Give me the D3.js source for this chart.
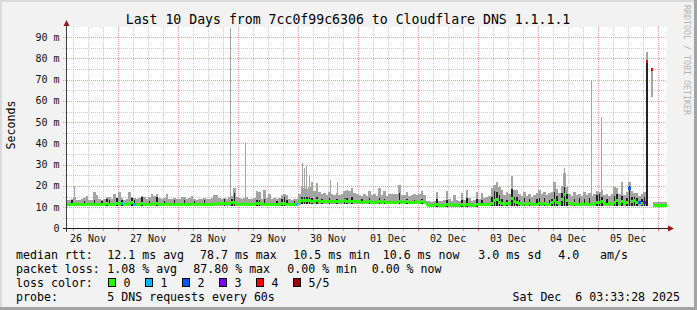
<!DOCTYPE html>
<html>
<head>
<meta charset="utf-8">
<script src="https://cdn.jsdelivr.net/npm/d3@7"></script>
<style>
  body { margin: 0; background: #f2f2f2; }
  text { font-family: "DejaVu Sans Mono", monospace; white-space: pre; }
</style>
</head>
<body>
<svg id="chart" width="697" height="310"></svg>
<script>
// hourly samples, first one = 26 Nov 03:00, last one = 06 Dec 03:00 (ms)
var med = [
  11.3,11.5,11.2,11.4,11.6,11.3,11.2,11.5,11.4,11.3,11.6,11.4,11.2,11.5,11.3,11.4,11.7,11.5,11.3,11.4,11.6, // 26 Nov 03h-23h
  11.6,11.9,11.4,11.3,11.7,12.0,11.5,11.3,11.4,11.8,11.5,11.3, 11.4,11.6,11.5,11.8,11.4,11.3,11.5,11.7,11.4,11.2,11.4,11.3, // 27 Nov
  11.3,11.5,11.4,11.2,11.3,11.6,11.4,11.2,11.3,11.5,11.3,11.4, 11.2,11.3,11.5,11.6,11.8,11.7,11.9,11.6,11.8,12.0,12.3,11.7, // 28 Nov
  11.5,11.4,11.6,11.3,11.4,11.2,11.5,11.8,11.6,11.4,11.3,11.5, 11.4,11.2,11.3,11.5,11.4,11.7,11.6,11.4,11.3,11.2,11.3,11.5, // 29 Nov
  12.8,13.4,13.2,13.0,13.3,12.9,12.7,13.1,12.8,12.6,12.9,12.7, 12.8,12.6,12.7,12.9,12.6,12.8,13.0,12.7,12.6,12.9,12.7,12.6, // 30 Nov
  12.5,12.3,12.6,12.4,12.7,12.3,12.4,12.2,12.6,12.4,12.5,12.3, 12.1,12.2,12.1,12.3,12.8,12.4,12.3,12.5,12.2,12.4,12.3,12.5, // 01 Dec
  12.4,12.6,12.3,11.2,11.0,10.9,11.1,11.3,11.0,10.9,11.0,11.2, 11.1,10.9,11.0,11.1,10.9,11.2,11.0,11.3,11.1,10.9,11.0,11.2, // 02 Dec
  11.2,11.4,11.1,11.3,11.2,11.6,13.0,13.5,12.4,11.8,11.5,11.9, 11.6,14.2,12.6,12.2,11.8,11.5,11.7,11.4,11.6,11.3,11.5,11.4, // 03 Dec
  11.6,11.4,11.8,11.5,11.3,12.0,13.0,12.4,11.8,13.5,16.0,13.2, 11.6,11.4,11.7,11.5,11.3,11.6,11.4,11.8,11.5,11.7,11.4,12.0, // 04 Dec
  12.0,12.6,11.6,11.4,11.8,11.5,12.4,13.0,11.7,12.8,11.6,12.2, 19.0,12.5,13.0,12.2,12.0,11.8,12.4,78.7,null,74.6,10.9,10.8, // 05 Dec
  10.8,10.7,10.9,10.6 // 06 Dec
];
var peak = [
  13.4,13.2,13.8,14.6,13.5,13.3,13.9,14.2,15.5,13.6,13.4,17.3,15.6,13.8,13.5,14.0,14.9,14.6,13.7,16.2,14.4,
  17.3,14.5,13.6,13.9,17.0,15.0,14.2,13.8,14.4,15.5,14.8,14.0, 14.6,16.2,15.2,16.0,14.3,13.9,14.5,16.2,14.1,13.7,14.4,14.0,
  14.0,14.8,15.0,13.7,14.2,15.3,14.0,13.6,14.1,13.8,14.3,13.9, 13.7,14.4,15.8,15.6,14.2,13.8,14.5,13.9,14.6,15.2,18.9,15.0,
  14.2,13.9,14.5,15.0,13.8,14.1,14.4,17.8,17.3,14.0,18.0,14.3, 16.1,13.9,14.2,13.8,14.5,15.8,16.0,15.9,14.1,13.6,13.8,14.0,
  16.0,19.7,19.0,18.5,19.3,22.0,17.5,21.3,17.0,16.4,16.6,15.8, 17.2,16.3,15.9,16.8,15.7,16.2,17.5,18.0,17.6,18.9,16.5,16.0,
  15.8,15.2,16.0,15.4,17.7,15.6,16.1,15.3,19.2,15.8,17.7,15.5, 16.3,16.3,16.2,16.3,20.5,15.7,15.9,17.3,15.4,15.8,16.0,15.6,
  16.0,17.7,15.8,13.0,12.7,12.6,13.1,17.3,13.0,12.8,13.2,17.7, 14.0,13.0,15.8,13.3,12.9,16.6,13.4,18.1,14.5,13.1,13.6,17.3,
  14.0,16.6,14.2,14.8,15.2,18.9,20.5,22.0,19.4,18.1,15.6,17.3, 16.0,24.7,18.1,18.0,16.4,15.2,17.0,15.5,16.2,14.8,15.6,16.9,
  18.1,16.2,17.3,15.8,16.5,17.0,22.0,18.5,16.8,20.0,26.0,19.5, 16.2,15.4,17.0,15.8,16.4,15.2,17.1,15.6,16.8,15.5,16.3,17.5,
  17.0,18.0,15.6,16.4,15.2,16.0,19.5,19.0,16.2,22.0,15.8,17.2, 22.0,17.5,16.5,16.8,15.4,16.2,17.0,83.2,null,74.6,12.6,12.5,
  12.4,12.6,12.3,12.5
];
// top of the dark (dense) smoke, 0 = none
var core = [
  0,0,13.2,0,0,0,0,12.9,0,0,0,13.5,0,0,12.8,0,14.0,13.6,0,0,14.2,
  0,13.4,0,0,0,14.5,13.2,0,0,15.0,0,0, 13.0,0,0,14.6,0,0,13.1,0,0,0,13.5,0,
  0,0,13.6,0,0,0,13.0,0,0,0,13.3,0, 0,0,0,0,0,0,13.7,0,0,14.0,16.6,0,
  0,0,0,0,0,0,0,13.5,13.3,0,13.8,0, 0,0,0,13.0,0,14.0,14.8,13.6,0,0,12.9,0,
  0,15.0,14.6,14.8,15.0,14.2,0,14.6,0,13.9,0,0, 14.2,0,0,14.0,0,0,14.5,14.3,0,14.6,0,0,
  0,13.8,0,0,14.2,0,0,0,14.5,0,13.9,0, 0,0,0,0,16.6,0,0,14.0,0,0,13.6,0,
  0,13.8,0,0,0,0,0,14.0,0,0,0,13.2, 0,0,0,0,0,13.4,0,14.2,0,0,0,13.8,
  0,13.3,0,0,0,14.6,17.7,17.0,15.8,14.0,0,13.6, 0,18.5,15.0,14.8,13.5,0,14.2,0,13.8,0,0,14.0,
  14.5,0,14.2,0,13.6,14.0,17.3,15.4,0,16.8,19.5,16.0, 0,0,13.8,0,14.2,0,13.9,0,14.4,0,0,15.6,
  16.0,15.0,0,13.8,0,0,15.5,16.0,0,15.2,0,14.4, 20.0,15.0,15.0,14.2,0,13.9,14.8,78.7,0,0,0,0,
  0,0,0,0
];
var low = [
  10.6,10.6,10.6,10.6,10.6,10.6,10.6,10.6,10.6,10.6,10.6,10.6,10.6,10.6,10.6,10.6,10.6,10.6,10.6,10.6,10.6,
  10.6,10.6,10.6,10.6,10.6,10.6,10.6,10.6,10.6,10.6,10.6,10.6, 10.6,10.6,10.6,10.6,10.6,10.6,10.6,10.6,10.6,10.6,10.6,10.6,
  10.6,10.6,10.6,10.6,10.6,10.6,10.6,10.6,10.6,10.6,10.6,10.6, 10.6,10.6,10.6,10.6,10.6,10.6,10.6,10.6,10.6,10.6,10.6,10.6,
  10.6,10.6,10.6,10.6,10.6,10.6,10.6,10.6,10.6,10.6,10.6,10.6, 10.6,10.6,10.6,10.6,10.6,10.6,10.6,10.6,10.6,10.6,10.6,10.6,
  11.0,11.3,11.3,11.3,11.3,11.3,11.3,11.3,11.3,11.3,11.3,11.3, 11.3,11.3,11.3,11.3,11.3,11.3,11.3,11.3,11.3,11.3,11.3,11.3,
  11.4,11.4,11.4,11.4,11.4,11.4,11.4,11.4,11.4,11.4,11.4,11.4, 11.4,11.4,11.4,11.4,11.4,11.4,11.4,11.4,11.4,11.4,11.4,11.4,
  11.4,11.4,11.4,10.4,10.3,10.3,10.3,10.3,10.3,10.3,10.3,10.3, 10.3,10.3,10.3,10.3,10.3,10.3,10.3,10.3,10.3,10.3,10.3,10.3,
  10.4,10.4,10.4,10.4,10.4,10.4,10.4,10.4,10.4,10.4,10.4,10.4, 10.4,10.4,10.4,10.4,10.4,10.4,10.4,10.4,10.4,10.4,10.4,10.4,
  10.4,10.4,10.4,10.4,10.4,10.4,10.4,10.4,10.4,10.4,10.4,10.4, 10.4,10.4,10.4,10.4,10.4,10.4,10.4,10.4,10.4,10.4,10.4,10.4,
  10.4,10.4,10.4,10.4,10.4,10.4,10.4,10.4,10.4,10.4,10.4,10.4, 10.4,10.4,10.4,10.4,10.4,10.4,10.4,10.6,null,62.0,10.2,10.2,
  10.2,10.2,10.2,10.2
];
// hours with lost packets (count out of 5)
var lossEvents = [
  ['2025-11-27 01', 1], ['2025-11-27 06', 1], ['2025-11-29 23', 1],
  ['2025-12-05 12', 2], ['2025-12-05 16', 2], ['2025-12-05 18', 3],
  ['2025-12-05 19', 4], ['2025-12-05 21', 4]
];
// single-ping outliers (ms)
var spikes = [
  ['2025-11-26 06:10', 20.0], ['2025-11-28 20:55', 99.0], ['2025-11-29 02:55', 40.9],
  ['2025-11-30 01:30', 30.7], ['2025-11-30 02:30', 28.3], ['2025-11-30 03:20', 29.5],
  ['2025-11-30 04:10', 25.2], ['2025-11-30 12:40', 22.6], ['2025-11-30 15:40', 22.0],
  ['2025-12-04 10:30', 28.6], ['2025-12-04 21:00', 69.9], ['2025-12-05 01:20', 52.6]
];
var yTicks = [0, 10, 20, 30, 40, 50, 60, 70, 80, 90];
var yMinor = [5, 15, 25, 35, 45, 55, 65, 75, 85];
var lossColors = ['#26ff00', '#00b8ff', '#0059ff', '#7e00ff', '#ff0000', '#a10000'];
var lossLabels = ['0', '1', '2', '3', '4', '5/5'];

if (med.length !== 241 || peak.length !== 241 || core.length !== 241 || low.length !== 241)
  throw new Error('lengths ' + [med.length, peak.length, core.length, low.length]);

var svg = d3.select('#chart'),
    t0 = new Date(2025, 10, 26, 3, 33, 28), // left edge
    t1 = new Date(2025, 11, 6, 3, 33, 28),  // right edge (now)
    first = new Date(2025, 10, 26, 3);
var x = d3.scaleTime().domain([t0, t1]).range([67, 667]);
var y = d3.scaleLinear().domain([0, 94.3]).range([228.5, 28]);
var parseHour = d3.timeParse('%Y-%m-%d %H'),
    parseMin = d3.timeParse('%Y-%m-%d %H:%M');

var lossByHour = {};
lossEvents.forEach(function (e) { lossByHour[+parseHour(e[0])] = e[1]; });

var hours = med.map(function (m, i) {
  var t = d3.timeHour.offset(first, i);
  return { t: t, med: m, peak: peak[i], core: core[i], low: low[i], loss: lossByHour[+t] || 0 };
}).filter(function (d) { return d.med !== null; });

// frame
svg.append('rect').attr('width', 697).attr('height', 310).attr('fill', '#f2f2f2');
svg.append('rect').attr('width', 697).attr('height', 2).attr('fill', '#dadada');
svg.append('rect').attr('width', 2).attr('height', 310).attr('fill', '#dadada');
svg.append('rect').attr('y', 307).attr('width', 697).attr('height', 3).attr('fill', '#a3a3a3');
svg.append('rect').attr('x', 694).attr('width', 3).attr('height', 310).attr('fill', '#a3a3a3');

// canvas
svg.append('rect').attr('x', 67).attr('y', 27).attr('width', 600).attr('height', 202).attr('fill', '#fff');

// grid
var px = function (v) { return Math.round(v) + 0.5; };
var sixHours = d3.timeHour.every(6).range(t0, t1),
    days = d3.timeDay.range(t0, t1);
var grid = svg.append('g').attr('stroke-dasharray', '1,1').attr('shape-rendering', 'crispEdges');
grid.selectAll('.vmin').data(sixHours.filter(function (t) { return t.getHours() !== 0; }))
  .enter().append('line')
  .attr('x1', function (t) { return px(x(t)); }).attr('x2', function (t) { return px(x(t)); })
  .attr('y1', 27).attr('y2', 231).attr('stroke', '#cdcdcd');
grid.selectAll('.hmin').data(yMinor).enter().append('line')
  .attr('x1', 63).attr('x2', 667)
  .attr('y1', function (v) { return px(y(v)); }).attr('y2', function (v) { return px(y(v)); })
  .attr('stroke', '#cdcdcd');
grid.selectAll('.vmaj').data(days).enter().append('line')
  .attr('x1', function (t) { return px(x(t)); }).attr('x2', function (t) { return px(x(t)); })
  .attr('y1', 27).attr('y2', 231).attr('stroke', '#ee9a9a');
grid.selectAll('.hmaj').data(yTicks.slice(1)).enter().append('line')
  .attr('x1', 63).attr('x2', 667)
  .attr('y1', function (v) { return px(y(v)); }).attr('y2', function (v) { return px(y(v)); })
  .attr('stroke', '#ee9a9a');

// data
svg.append('clipPath').attr('id', 'plot').append('rect')
  .attr('x', 67).attr('y', 28).attr('width', 600).attr('height', 200.5);
var plot = svg.append('g').attr('clip-path', 'url(#plot)').attr('shape-rendering', 'crispEdges');
var xa = function (d) { return x(d.t); },
    bw = function (d) { return x(d3.timeHour.offset(d.t, 1)) - x(d.t); };

plot.selectAll('.smoke').data(hours).enter().append('rect')
  .attr('x', xa).attr('width', bw)
  .attr('y', function (d) { return y(d.peak); })
  .attr('height', function (d) { return y(d.low) - y(d.peak); })
  .attr('fill', '#a4a4a4');

var medAt = function (t) {
  var i = Math.floor((t - first) / 36e5);
  return med[i] || 11;
};
plot.selectAll('.spike').data(spikes).enter().append('line')
  .attr('x1', function (s) { return px(x(parseMin(s[0]))); })
  .attr('x2', function (s) { return px(x(parseMin(s[0]))); })
  .attr('y1', function (s) { return y(medAt(parseMin(s[0]))); })
  .attr('y2', function (s) { return y(s[1]); })
  .attr('stroke', '#a4a4a4');

plot.selectAll('.core').data(hours.filter(function (d) { return d.core > 0; })).enter().append('rect')
  .attr('x', function (d) { return xa(d) + 0.4; })
  .attr('width', function (d) { return bw(d) - 0.8; })
  .attr('y', function (d) { return y(d.core); })
  .attr('height', function (d) { return y(d.low) - y(d.core); })
  .attr('fill', '#222');

plot.selectAll('.median').data(hours).enter().append('rect')
  .attr('x', xa).attr('width', bw)
  .attr('y', function (d) { return y(d.med) - 1.5; })
  .attr('height', 3)
  .attr('fill', function (d) { return lossColors[d.loss]; });

// axes
var axes = svg.append('g').attr('shape-rendering', 'crispEdges');
axes.selectAll('.xt').data(sixHours).enter().append('line')
  .attr('x1', function (t) { return px(x(t)); }).attr('x2', function (t) { return px(x(t)); })
  .attr('y1', 229).attr('y2', 231)
  .attr('stroke', function (t) { return t.getHours() === 0 ? '#e07070' : '#b0b0b0'; });
axes.append('line').attr('x1', 63).attr('x2', 669).attr('y1', 228.5).attr('y2', 228.5).attr('stroke', '#202020');
axes.append('line').attr('x1', 66.5).attr('x2', 66.5).attr('y1', 25).attr('y2', 232).attr('stroke', '#404040');
svg.append('path').attr('d', 'M668,225.5L674,228.5L668,231.5Z').attr('fill', '#8c1c1c');
svg.append('path').attr('d', 'M63.5,26L66.5,20L69.5,26Z').attr('fill', '#8c1c1c');

// tick labels
svg.selectAll('.yl').data(yTicks).enter().append('text')
  .attr('x', 59.5).attr('y', function (v) { return y(v); })
  .attr('text-anchor', 'end').attr('dominant-baseline', 'central')
  .attr('font-size', '10px').attr('fill', '#111')
  .text(function (v) { return v === 0 ? '0' : v + ' m'; });
svg.selectAll('.xl').data(days.map(function (d) { return d3.timeHour.offset(d, 12); })
    .concat([new Date(2025, 10, 26, 12)]).filter(function (t) { return t < t1; }))
  .enter().append('text')
  .attr('x', function (t) { return x(t); }).attr('y', 238)
  .attr('text-anchor', 'middle').attr('dominant-baseline', 'central')
  .attr('font-size', '10px').attr('fill', '#111')
  .text(d3.timeFormat('%d %b'));

// titles
svg.append('text').attr('x', 348).attr('y', 19.5)
  .attr('text-anchor', 'middle').attr('dominant-baseline', 'central')
  .attr('font-size', '13.2px').attr('fill', '#000')
  .text('Last 10 Days from 7cc0f99c6306 to Cloudflare DNS 1.1.1.1');
svg.append('text').attr('transform', 'translate(11,125) rotate(-90)')
  .attr('text-anchor', 'middle').attr('dominant-baseline', 'central')
  .attr('font-size', '11.6px').attr('fill', '#000').text('Seconds');
svg.append('text').attr('transform', 'translate(687,5) rotate(90)')
  .attr('dominant-baseline', 'central')
  .attr('font-size', '8.3px').attr('fill', '#b4b4b4').text('RRDTOOL / TOBI OETIKER');

// legend
var legendRows = [
  [[16, 'median rtt:'], [107.3, '12.1 ms avg'], [200, '78.7 ms max'], [293.3, '10.5 ms min'],
   [382.7, '10.6 ms now'], [478.3, '3.0 ms sd'], [558.3, '4.0'], [600, 'am/s']],
  [[16, 'packet loss:'], [107.3, '1.08 % avg'], [193.3, '87.80 % max'], [287.3, '0.00 % min'],
   [371.7, '0.00 % now']],
  [[16, 'loss color:']],
  [[16, 'probe:'], [107.3, '5 DNS requests every 60s']]
];
var rowY = [254.5, 268.5, 282.5, 296.5];
legendRows.forEach(function (row, r) {
  svg.selectAll(null).data(row).enter().append('text')
    .attr('x', function (s) { return s[0]; }).attr('y', rowY[r])
    .attr('dominant-baseline', 'central').attr('font-size', '11.6px').attr('fill', '#000')
    .text(function (s) { return s[1]; });
});
var lg = svg.selectAll('.lc').data(lossColors).enter().append('g')
  .attr('transform', function (c, i) { return 'translate(' + (108.5 + 37 * i) + ',278.5)'; });
lg.append('rect').attr('width', 7).attr('height', 8).attr('fill', function (c) { return c; })
  .attr('stroke', '#000').attr('shape-rendering', 'crispEdges');
lg.append('text').attr('x', 15).attr('y', 4).attr('dominant-baseline', 'central')
  .attr('font-size', '11.6px').text(function (c, i) { return lossLabels[i]; });
svg.append('text').attr('x', 680).attr('y', 296.5).attr('text-anchor', 'end')
  .attr('dominant-baseline', 'central').attr('font-size', '11.6px')
  .text('Sat Dec  6 03:33:28 2025');
</script>
</body>
</html>
